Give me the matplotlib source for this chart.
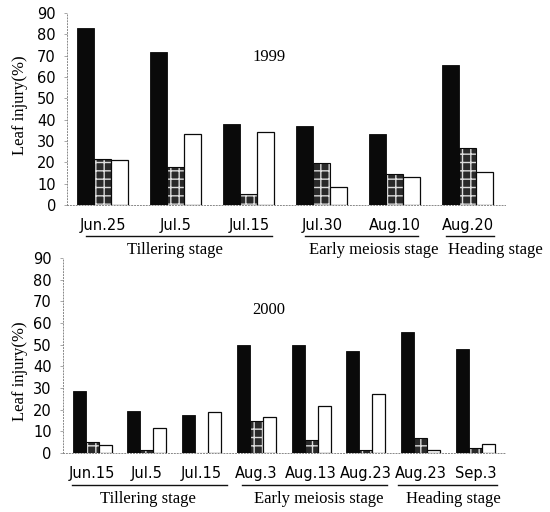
import matplotlib
matplotlib.use("Agg")
import matplotlib.pyplot as plt
import matplotlib.transforms as mtransforms
from matplotlib.lines import Line2D
import numpy as np

# 1999 data
dates_99 = ["Jun.25", "Jul.5", "Jul.15", "Jul.30", "Aug.10", "Aug.20"]
black_99 = [83, 71.5, 38, 37, 33.3, 65.7]
hatch_99 = [21.4, 17.7, 5.2, 19.8, 14.4, 26.9]
white_99 = [21, 33.3, 34, 8.5, 13.1, 15.6]

# 2000 data
dates_00 = ["Jun.15", "Jul.5", "Jul.15", "Aug.3", "Aug.13", "Aug.23", "Aug.23", "Sep.3"]
black_00 = [28.5, 19.3, 17.4, 49.7, 49.7, 46.9, 55.8, 48]
hatch_00 = [5.2, 1.2, 0, 14.7, 5.8, 1.6, 6.8, 2.2]
white_00 = [3.5, 11.6, 19, 16.5, 21.9, 27.4, 1.6, 4.1]

stages = ["Tillering stage", "Early meiosis stage", "Heading stage"]

plt.rcParams['hatch.linewidth'] = 1.0
serif = ['Liberation Serif', 'DejaVu Serif']

fig = plt.figure(figsize=(5.5, 5.12), dpi=100)
ax1 = fig.add_axes([0.1218, 0.5996, 0.796, 0.375])
ax2 = fig.add_axes([0.1145, 0.1152, 0.8036, 0.381])


def draw_panel(ax, dates, blk, hch, wht, w, xlim, year, year_pos, ylab_x, ylab_y,
               lines, texts, line_y, text_y):
    x = np.arange(len(dates))
    ax.bar(x - w, blk, w, color='#0a0a0a', edgecolor='#0a0a0a', linewidth=0.6)
    ax.bar(x, hch, w, color='#2a2a2a', edgecolor='#dddddd', hatch='++', linewidth=0)
    ax.bar(x, hch, w, fill=False, edgecolor='#0a0a0a', linewidth=0.8)
    ax.bar(x + w, wht, w, color='white', edgecolor='#0a0a0a', linewidth=0.9)
    ax.set_xlim(*xlim)
    ax.set_ylim(0, 90)
    ax.set_yticks(range(0, 91, 10))
    ax.set_xticks(x)
    ax.set_xticklabels(dates)
    ax.tick_params(axis='x', length=0, pad=9, labelsize=10.5)
    ax.tick_params(axis='y', length=2, width=0.6, color='#999999', pad=6,
                   labelsize=10.5)
    for s in ['top', 'right']:
        ax.spines[s].set_visible(False)
    for s in ['left', 'bottom']:
        ax.spines[s].set_linestyle((0, (1, 2)))
        ax.spines[s].set_color('#888888')
        ax.spines[s].set_linewidth(0.7)
    ax.set_ylabel("Leaf injury(%)", family=serif, fontsize=12)
    ax.yaxis.set_label_coords(ylab_x, ylab_y)
    ax.text(year_pos[0], year_pos[1], year, transform=ax.transAxes,
            family=serif, fontsize=12, ha='center', va='center')
    trans = mtransforms.blended_transform_factory(ax.transData, ax.transAxes)
    for (x0, x1), (xc, lab) in zip(lines, zip(texts, stages)):
        ax.add_line(Line2D([x0, x1], [line_y, line_y], transform=trans,
                           color='#111111', linewidth=1.0, clip_on=False))
        ax.text(xc, text_y, lab, transform=trans, family=serif, fontsize=12,
                ha='center', va='center')


draw_panel(ax1, dates_99, black_99, hatch_99, white_99, 0.233,
           (-0.493, 5.507), "1999", (0.462, 0.77), -0.089, 0.52,
           [(-0.233, 2.315), (2.77, 4.315), (4.7, 5.36)],
           [0.986, 3.71, 5.38], -0.161, -0.234)

draw_panel(ax2, dates_00, black_00, hatch_00, white_00, 0.237,
           (-0.533, 7.54), "2000", (0.466, 0.733), -0.079, 0.42,
           [(-0.369, 2.46), (2.73, 5.38), (5.58, 7.39)],
           [1.02, 4.14, 6.59], -0.164, -0.236)

fig.savefig("out.png", dpi=100)
